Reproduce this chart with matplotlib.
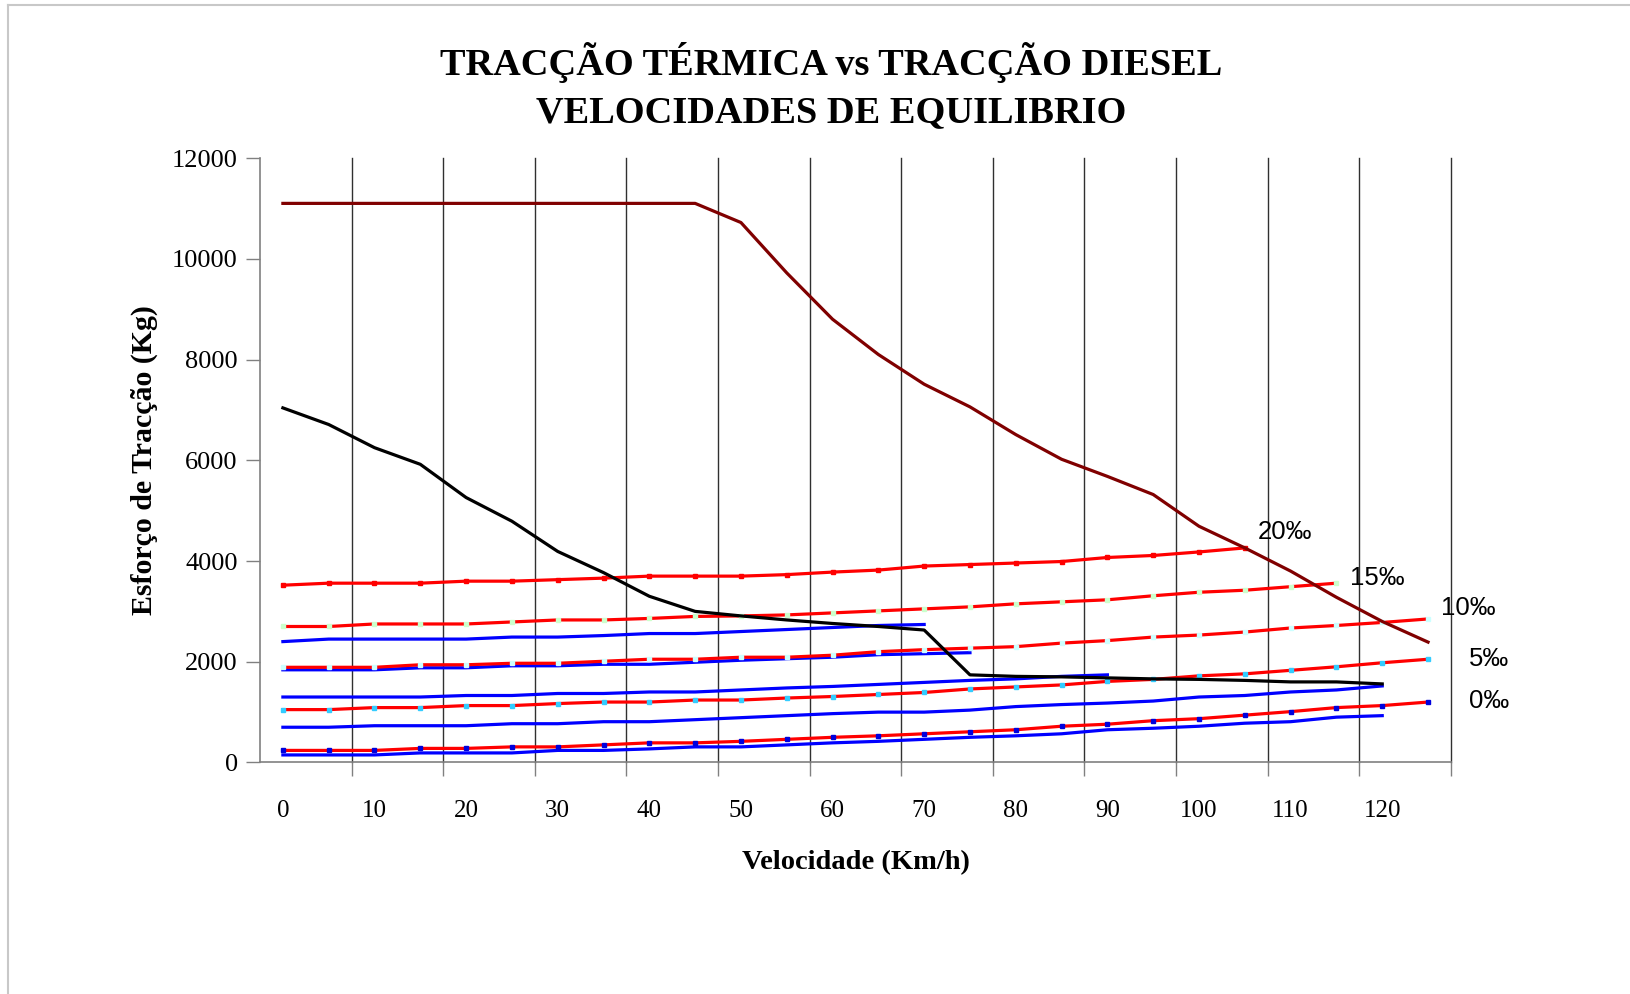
import numpy as np
import matplotlib.pyplot as plt
from matplotlib.lines import Line2D

# velocidades 0..125 km/h, de 5 em 5 (eixo de categorias)
vel = np.arange(0, 130, 5)
x_labels = ['0', '10', '20', '30', '40', '50', '60', '70', '80', '90', '100', '110', '120']

# esforco de traccao (Kg)
diesel = [11100, 11100, 11100, 11100, 11100, 11100, 11100, 11100, 11100, 11100,
          10720, 9720, 8800, 8100, 7510, 7060, 6510, 6020, 5680, 5320,
          4690, 4260, 3800, 3280, 2800, 2390]
termica = [7040, 6710, 6250, 5920, 5260, 4790, 4190, 3770, 3300, 3000,
           2910, 2830, 2760, 2700, 2630, 1740, 1710, 1700, 1680, 1660,
           1650, 1630, 1600, 1600, 1560]

# resistencias (linhas vermelhas) por rampa
r20 = [3520, 3560, 3560, 3560, 3600, 3600, 3630, 3660, 3700, 3700, 3700,
       3730, 3780, 3820, 3900, 3930, 3960, 3990, 4070, 4110, 4180, 4260]
r15 = [2700, 2700, 2750, 2750, 2750, 2790, 2830, 2830, 2860, 2900, 2910,
       2930, 2970, 3010, 3050, 3090, 3150, 3190, 3230, 3310, 3380, 3420,
       3490, 3560]
r10 = [1890, 1890, 1890, 1940, 1940, 1970, 1970, 2010, 2050, 2050, 2090,
       2090, 2130, 2200, 2240, 2270, 2300, 2370, 2420, 2490, 2530, 2590,
       2670, 2720, 2780, 2850]
r5 = [1050, 1050, 1090, 1090, 1130, 1130, 1170, 1200, 1200, 1240, 1240,
      1280, 1310, 1350, 1390, 1460, 1500, 1540, 1610, 1650, 1720, 1760,
      1830, 1900, 1980, 2050]
r0 = [240, 240, 240, 280, 280, 310, 310, 350, 390, 390, 420, 460, 500,
      530, 570, 610, 650, 720, 760, 830, 870, 940, 1010, 1090, 1130, 1200]

# linhas azuis
b1 = [2400, 2450, 2450, 2450, 2450, 2490, 2490, 2520, 2560, 2560, 2600,
      2640, 2680, 2720, 2740]
b2 = [1840, 1840, 1840, 1880, 1880, 1920, 1920, 1950, 1950, 1990, 2030,
      2060, 2090, 2140, 2160, 2180]
b3 = [1300, 1300, 1300, 1300, 1330, 1330, 1370, 1370, 1400, 1400, 1440,
      1480, 1510, 1550, 1590, 1630, 1660, 1710, 1740]
b4 = [700, 700, 730, 730, 730, 770, 770, 810, 810, 850, 890, 930, 970,
      1000, 1000, 1040, 1110, 1150, 1180, 1220, 1300, 1330, 1400, 1440, 1520]
b5 = [150, 150, 150, 190, 190, 190, 240, 240, 270, 310, 310, 350, 390,
      420, 460, 500, 530, 570, 650, 680, 720, 780, 810, 900, 930]

plt.rcParams['font.family'] = 'Liberation Serif'

fig = plt.figure(figsize=(16.31, 9.94), dpi=100)
ax = fig.add_axes([0.1594, 0.2329, 0.7302, 0.6081])

lw = 2.3
for b in [b1, b2, b3, b4, b5]:
    ax.plot(np.arange(len(b)), b, color='#0000FF', lw=lw, zorder=3)

reds = [(r20, '#FF0000'), (r15, '#CCFFCC'), (r10, '#CCFFFF'),
        (r5, '#33CCFF'), (r0, '#0000DD')]
for r, mc in reds:
    ax.plot(np.arange(len(r)), r, color='#FF0000', lw=lw, zorder=4,
            marker='s', ms=3.5, mfc=mc, mec=mc)

ax.plot(np.arange(len(termica)), termica, color='black', lw=lw, zorder=5)
ax.plot(np.arange(len(diesel)), diesel, color='#800000', lw=lw, zorder=6)

ax.set_xlim(-0.5, len(vel) - 0.5)
ax.set_ylim(0, 12000)
ax.set_yticks(np.arange(0, 12001, 2000))

grid_pos = np.arange(1.5, len(vel), 2)
ax.set_xticks(grid_pos)
ax.set_xticklabels([])
ax.set_xticks(np.arange(0, 25, 2), minor=True)
ax.set_xticklabels(x_labels, minor=True)
ax.tick_params(axis='x', which='major', length=10, width=1, color='#808080')
ax.tick_params(axis='x', which='minor', length=0, pad=27, labelsize=18)
ax.tick_params(axis='y', length=10, width=1, color='#808080', pad=6, labelsize=19)
ax.xaxis.grid(True, which='major', color='#303030', lw=1)
for gl in ax.get_xgridlines():
    gl.set_clip_on(False)

for s in ['top', 'right']:
    ax.spines[s].set_visible(False)
for s in ['left', 'bottom']:
    ax.spines[s].set_color('#808080')
    ax.spines[s].set_linewidth(1.2)

ax.set_xlabel('Velocidade (Km/h)', fontsize=20.5, fontweight='bold', labelpad=20.5)
ax.set_ylabel('Esforço de Tracção (Kg)', fontsize=21.5, fontweight='bold', labelpad=10)

fig.text(0.5095, 0.937, 'TRACÇÃO TÉRMICA vs TRACÇÃO DIESEL', ha='center', va='center',
         fontsize=27.6, fontweight='bold')
fig.text(0.5095, 0.887, 'VELOCIDADES DE EQUILIBRIO', ha='center', va='center',
         fontsize=27.6, fontweight='bold')

labs = [(21.29, 4445, '20‰'), (23.30, 3530, '15‰'), (25.28, 2935, '10‰'),
        (25.90, 1925, '5‰'), (25.90, 1080, '0‰')]
for tx, ty, t in labs:
    ax.text(tx, ty, t, fontsize=18.5, family='Liberation Sans', va='baseline',
            ha='left', clip_on=False, zorder=7)

# moldura da pagina
fig.add_artist(Line2D([8 / 1631, 1], [1 - 5 / 994, 1 - 5 / 994], color='#C8C8C8', lw=1.5))
fig.add_artist(Line2D([8 / 1631, 8 / 1631], [0, 1 - 5 / 994], color='#C8C8C8', lw=1.5))

fig.savefig('out.png', dpi=100)
